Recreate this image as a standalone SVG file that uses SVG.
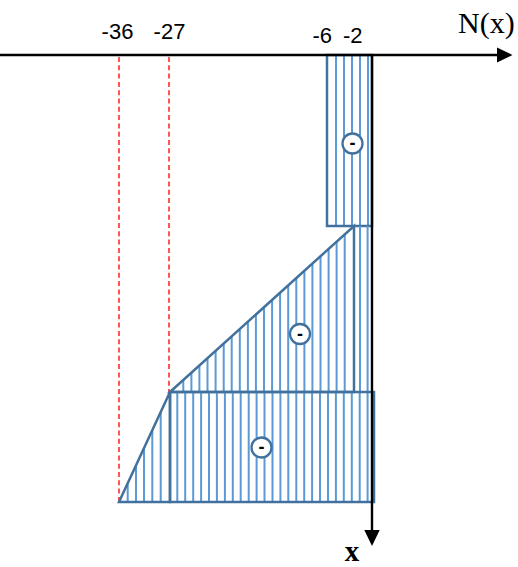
<svg xmlns="http://www.w3.org/2000/svg" width="518" height="567" viewBox="0 0 518 567">
<style>
.hatch{stroke:#5B9BD5;stroke-width:2;fill:none}
.edge{stroke:#41719C;stroke-width:2.5;fill:none;stroke-linejoin:miter}
.sign{fill:#fff;stroke:#41719C;stroke-width:2.3}
.minus{font-family:"Liberation Sans",Arial,sans-serif;font-size:18px;font-weight:bold;fill:#000;text-anchor:middle}
.guide{stroke:#FF1E1E;stroke-width:1.5;stroke-dasharray:5 3.3;fill:none}
.axis{stroke:#000;stroke-width:2.4;fill:none}
.head{fill:#000}
.lbl{font-family:"Liberation Sans",Arial,sans-serif;font-size:22px;fill:#000;text-anchor:middle}
.ser{font-family:"Liberation Serif","Times New Roman",serif;fill:#000}
</style>
<g id="guides">
<line class="guide" x1="119" y1="57" x2="119" y2="502"/>
<line class="guide" x1="169" y1="57" x2="169" y2="392"/>
</g>
<g id="top-block">
<path class="hatch" d="M336 55V226M344 55V226M352 55V226M360 55V226M368 55V226"/>
<rect class="edge" x="327" y="55" width="45" height="171"/>
<circle class="sign" cx="352.5" cy="143.5" r="10"/>
<text class="minus" x="352.5" y="149">-</text>
</g>
<g id="trapezoid">
<path class="hatch" d="M183.3 380V392M191.4 372.7V392M199.4 365.4V392M207.5 358.2V392M215.6 350.9V392M223.7 343.6V392M231.7 336.3V392M239.8 329V392M247.9 321.8V392M255.9 314.5V392M264 307.2V392M272.1 299.9V392M280.1 292.6V392M288.2 285.3V392M296.3 278.1V392M304.4 270.8V392M312.4 263.5V392M320.5 256.2V392M328.6 248.9V392M336.6 241.7V392M344.7 234.4V392M360 226V392M367.6 226V392"/>
<polygon class="edge" points="170,392 354,226 354,392"/>
<circle class="sign" cx="300" cy="334" r="10"/>
<text class="minus" x="300" y="339.5">-</text>
</g>
<g id="triangle">
<path class="hatch" d="M127.7 483.2V502M136 465.3V502M144 448.1V502M152.3 430.2V502M160.7 412.1V502"/>
<polygon class="edge" points="119,502 170,392 170,502"/>
</g>
<g id="bottom-block">
<path class="hatch" d="M177.3 392V502M185.2 392V502M193.2 392V502M201.1 392V502M209 392V502M216.9 392V502M224.9 392V502M232.8 392V502M240.7 392V502M248.7 392V502M256.6 392V502M264.5 392V502M272.5 392V502M280.4 392V502M288.3 392V502M296.3 392V502M304.2 392V502M312.1 392V502M320 392V502M328 392V502M335.9 392V502M343.8 392V502M351.8 392V502M359.7 392V502M367.6 392V502"/>
<rect class="edge" x="170" y="392" width="204" height="110"/>
<circle class="sign" cx="261.5" cy="447.5" r="10"/>
<text class="minus" x="261.5" y="453">-</text>
</g>
<g id="connectors">
<line class="axis" x1="0" y1="55" x2="498" y2="55"/>
<polygon class="head" points="497,47.5 512.5,55 497,62.5"/>
<line class="axis" x1="372" y1="54" x2="372" y2="531"/>
<polygon class="head" points="364.3,530 372,546 379.7,530"/>
</g>
<g id="labels">
<text class="lbl" x="117.5" y="39">-36</text>
<text class="lbl" x="169.5" y="39">-27</text>
<text class="lbl" x="322.3" y="43">-6</text>
<text class="lbl" x="352.7" y="43">-2</text>
<text class="ser" x="458" y="33" font-size="30">N(x)</text>
<text class="ser" x="352" y="561" font-size="29" font-weight="bold" text-anchor="middle">x</text>
</g>
</svg>
